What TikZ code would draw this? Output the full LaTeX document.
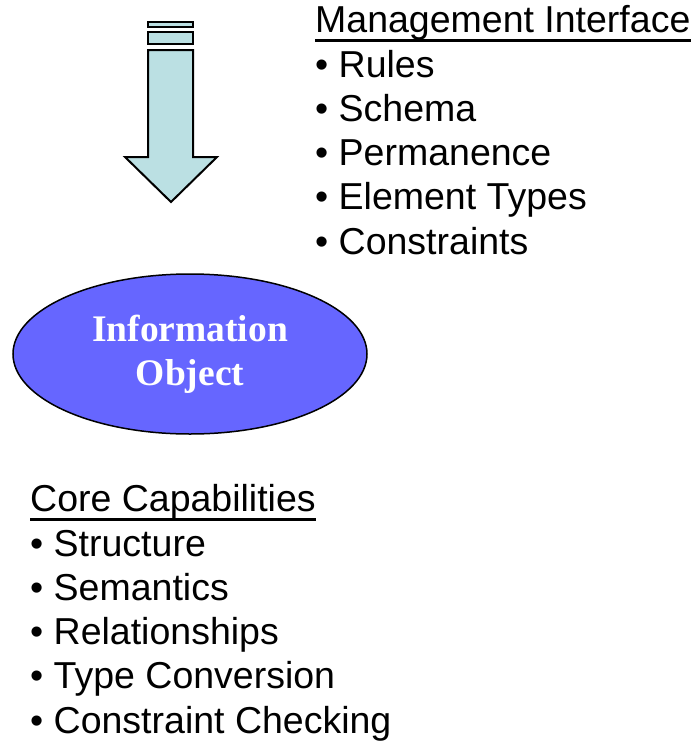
\documentclass[tikz,border=0pt]{standalone}
\usepackage{fontspec}
\setmainfont{Liberation Sans}
\newfontfamily\objfont{Liberation Serif}
\usetikzlibrary{shapes.geometric}
\definecolor{arrowfill}{HTML}{BBE0E3}
\definecolor{objfill}{HTML}{6666FF}

\begin{document}
\begin{tikzpicture}[x=1pt, y=-1pt,
    item/.style={anchor=base west, inner sep=0pt, font=\fontsize{37.5}{44}\selectfont},
    uline/.style={line width=2.5pt},
    block/.style={draw=black, fill=arrowfill, line width=2pt, line join=miter}]
    \useasboundingbox (0,0) rectangle (693,742);

    % block arrow with stripes
    \draw[block] (148,22) rectangle (193,27);
    \draw[block] (148,32) rectangle (193,44);
    \draw[block] (148,50) -- (193,50) -- (193,157) -- (217,157) -- (171,202)
        -- (125,157) -- (148,157) -- cycle;

    % information object
    \node[ellipse, draw=black, fill=objfill, line width=1.5pt, minimum width=354pt,
        minimum height=160pt, align=center, text=white,
        font=\objfont\bfseries\fontsize{37.5}{44}\selectfont] (obj) at (190,354)
        {Information\\Object};

    % management interface list
    \node[item] (mgmt) at (315,32) {Management Interface};
    \draw[uline] ([yshift=-8.5pt]mgmt.base west) -- ([yshift=-8.5pt]mgmt.base east);
    \foreach \txt [count=\i] in {Rules, Schema, Permanence, Element Types, Constraints}
        \node[item] (mgmt\i) at (315, {77+44.25*(\i-1)}) {• \txt};

    % core capabilities list
    \node[item] (core) at (30,511) {Core Capabilities};
    \draw[uline] ([yshift=-8.5pt]core.base west) -- ([yshift=-8.5pt]core.base east);
    \foreach \txt [count=\i] in {Structure, Semantics, Relationships, Type Conversion, Constraint Checking}
        \node[item] (core\i) at (30, {556+44.25*(\i-1)}) {• \txt};
\end{tikzpicture}
\end{document}
